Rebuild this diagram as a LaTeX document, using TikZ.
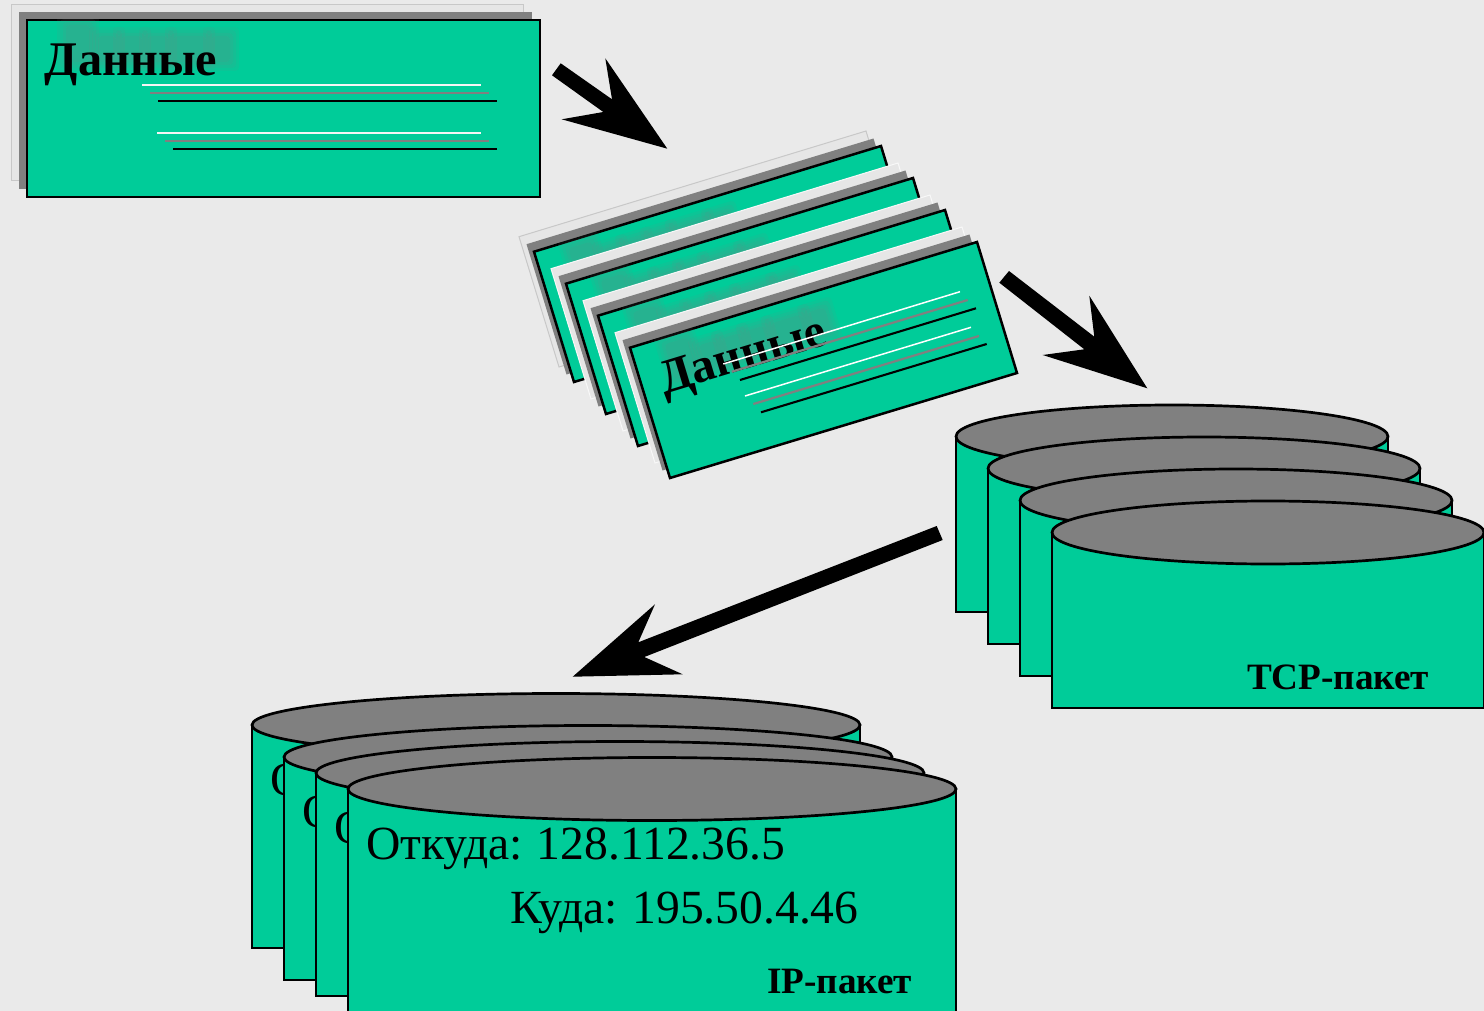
\documentclass[tikz,border=0pt]{standalone}
\usepackage{fontspec}
\setmainfont{Liberation Serif}
\definecolor{bgc}{HTML}{EAEAEA}
\definecolor{grn}{HTML}{00CC99}
\definecolor{gry}{HTML}{808080}
\definecolor{pale}{HTML}{E6E6E6}
\definecolor{edgec}{HTML}{C8C8C8}
\tikzset{
  mainface/.style={fill=grn,draw=black,line width=2.5pt,line join=miter},
  shadowface/.style={fill=gry},
  paleface/.style={fill=pale,draw=edgec,line width=1pt},
  paleface2/.style={fill=pale,draw=white!70!pale,line width=1pt},
  wline/.style={draw=white!92!gry,line width=2.2pt},
  gline/.style={draw=gry,line width=2.2pt},
  bline/.style={draw=black,line width=2.2pt},
  wlineR/.style={draw=white,line width=1.5pt},
  glineR/.style={draw=gry,line width=2.2pt},
  blineR/.style={draw=black,line width=2.1pt},
  arrowbody/.style={fill=black},
  txt/.style={inner sep=0pt,outer sep=0pt,text=black,anchor=base west},
  bigbold/.style={txt,font=\fontsize{48.3}{48}\selectfont\bfseries},
  bigreg/.style={txt,font=\fontsize{47.6}{48}\selectfont},
  lblbold/.style={txt,font=\fontsize{37.2}{37}\selectfont\bfseries},
  smudge/.style={fill=gry,opacity=0.09},
}
% blurred shadow of a word; the origin is the left end of its base line
\newcommand{\smudgeword}{%
  \foreach \xa/\xb/\top in {4/28/-36,36/54/-25,60/80/-25,86/106/-25,112/144/-25,150/168/-25}{
    \foreach \g in {0,3,6,9}{
      \fill[smudge,rounded corners=4pt] (\xa-\g,\top-\g) rectangle (\xb+\g,1+\g);
    }
  }
}
% #1 left, #2 right, #3 ellipse centre y, #4 bottom
\newcommand{\cylbody}[4]{%
  \pgfmathsetmacro{\lxx}{#1}\pgfmathsetmacro{\rxx}{#2}\pgfmathsetmacro{\cyy}{#3}\pgfmathsetmacro{\byy}{#4}
  \fill[grn] (\lxx,\cyy) rectangle (\rxx,\byy);
  \draw[black,line width=2.7pt] (\lxx,\cyy) -- (\lxx,\byy) -- (\rxx,\byy) -- (\rxx,\cyy);
  \pgfmathsetmacro{\raa}{(\rxx-\lxx)/2}
  \pgfmathsetmacro{\cxx}{(\rxx+\lxx)/2}
  \draw[fill=gry,draw=black,line width=2.7pt] (\cxx,\cyy) ellipse [x radius=\raa, y radius=31.5];
}
\begin{document}
\begin{tikzpicture}[x=1pt,y=-1pt]
\useasboundingbox (0,0) rectangle (1484,1011);
\clip (0,0) rectangle (1484,1011);
\fill[bgc] (0,0) rectangle (1484,1011);

% ---- first sheet
\draw[paleface] (11.5,4.5) rectangle (523,180.5);
\fill[shadowface] (19,12.5) rectangle (532,189);
\draw[mainface] (27,20) rectangle (540,197);
\begin{scope}[shift={(62,61)}]\smudgeword\end{scope}
\node[bigbold,name=t1] at (45,75.5) {Данные};
\coordinate (l1a) at (142,85);  \coordinate (l1b) at (481,85);
\coordinate (l2a) at (150,93);  \coordinate (l2b) at (489,93);
\coordinate (l3a) at (158,101); \coordinate (l3b) at (497,101);
\coordinate (l4a) at (157,133); \coordinate (l4b) at (481,133);
\coordinate (l5a) at (165,141); \coordinate (l5b) at (489,141);
\coordinate (l6a) at (173,149); \coordinate (l6b) at (497,149);
\draw[wline] (l1a)--(l1b);
\draw[gline] (l2a)--(l2b);
\draw[bline] (l3a)--(l3b);
\draw[wline] (l4a)--(l4b);
\draw[gline] (l5a)--(l5b);
\draw[bline] (l6a)--(l6b);

% ---- rotated stack
\foreach \k/\sty in {96/paleface,64/paleface2,32/paleface2,0/paleface2}{
  \begin{scope}[shift={(-\k,-\k)}]
    \draw[\sty] (615,332.7) -- (962,227) -- (1002,358) -- (655,463) -- cycle;
    \fill[shadowface] (622.5,340.2) -- (969.5,234.5) -- (1009.5,365.5) -- (662.5,470.5) -- cycle;
    \draw[mainface] (630,347.7) -- (977,242) -- (1017,373) -- (670,478) -- cycle;
    \begin{scope}[shift={(671,380)},rotate=16.9]\smudgeword\end{scope}
  \end{scope}
}
\node[bigbold,rotate=16.9,name=t2] at (664,394) {Данные};
\coordinate (r1a) at (723.3,364);  \coordinate (r1b) at (960,291.7);
\coordinate (r2a) at (731.7,371.7);\coordinate (r2b) at (967.7,300);
\coordinate (r3a) at (740,380);    \coordinate (r3b) at (976,308.3);
\coordinate (r4a) at (745,396);    \coordinate (r4b) at (971,327.3);
\coordinate (r5a) at (753.3,404);  \coordinate (r5b) at (979,336);
\coordinate (r6a) at (761,412.3);  \coordinate (r6b) at (986.7,344);
\draw[wlineR] (r1a)--(r1b);
\draw[glineR] (r2a)--(r2b);
\draw[blineR] (r3a)--(r3b);
\draw[wlineR] (r4a)--(r4b);
\draw[glineR] (r5a)--(r5b);
\draw[blineR] (r6a)--(r6b);

% ---- TCP cylinders
\foreach \k in {0,32,64,96}{
  \cylbody{956+\k}{1388+\k}{436.5+\k}{612+\k}
}
\node[lblbold,name=tcp] at (1247,689) {TCP-пакет};

% ---- IP cylinders
\cylbody{252}{860}{725}{948}
\node[bigreg,name=o1] at (270,795) {О};
\cylbody{284}{892}{757}{980}
\node[bigreg,name=o2] at (302,827) {О};
\cylbody{316}{924}{773}{996}
\node[bigreg,name=o3] at (334,843) {О};
\cylbody{348}{956}{789}{1013}
\node[bigreg,name=src] at (366,859) {Откуда:\hspace{-2pt} 128.112.36.5};
\node[bigreg,name=dst] at (510.5,923) {Куда:\hspace{-1.5pt} 195.50.4.46};
\node[lblbold,name=ip] at (767,993) {IP-пакет};

% ---- arrows
\coordinate (a1) at (560.7,63.3); \coordinate (a2) at (612,99.3); \coordinate (a3) at (605.3,58.3);
\coordinate (a4) at (667.3,148.7); \coordinate (a5) at (561.7,119.3); \coordinate (a6) at (603.3,112); \coordinate (a7) at (552,75.3);
\fill[arrowbody] (a1)--(a2)--(a3)--(a4)--(a5)--(a6)--(a7)--cycle;
\coordinate (b1) at (1009,271); \coordinate (b2) at (1094.3,336.7); \coordinate (b3) at (1089.3,295.7);
\coordinate (b4) at (1147.3,388.3); \coordinate (b5) at (1042.7,355); \coordinate (b6) at (1084.3,349.3); \coordinate (b7) at (999.3,282.7);
\fill[arrowbody] (b1)--(b2)--(b3)--(b4)--(b5)--(b6)--(b7)--cycle;
\coordinate (c1) at (936.7,526); \coordinate (c2) at (638.3,642.3); \coordinate (c3) at (655,604.3);
\coordinate (c4) at (572.7,676.7); \coordinate (c5) at (682.7,674.3); \coordinate (c6) at (644.3,657); \coordinate (c7) at (942.7,540);
\fill[arrowbody] (c1)--(c2)--(c3)--(c4)--(c5)--(c6)--(c7)--cycle;
\end{tikzpicture}
\end{document}
